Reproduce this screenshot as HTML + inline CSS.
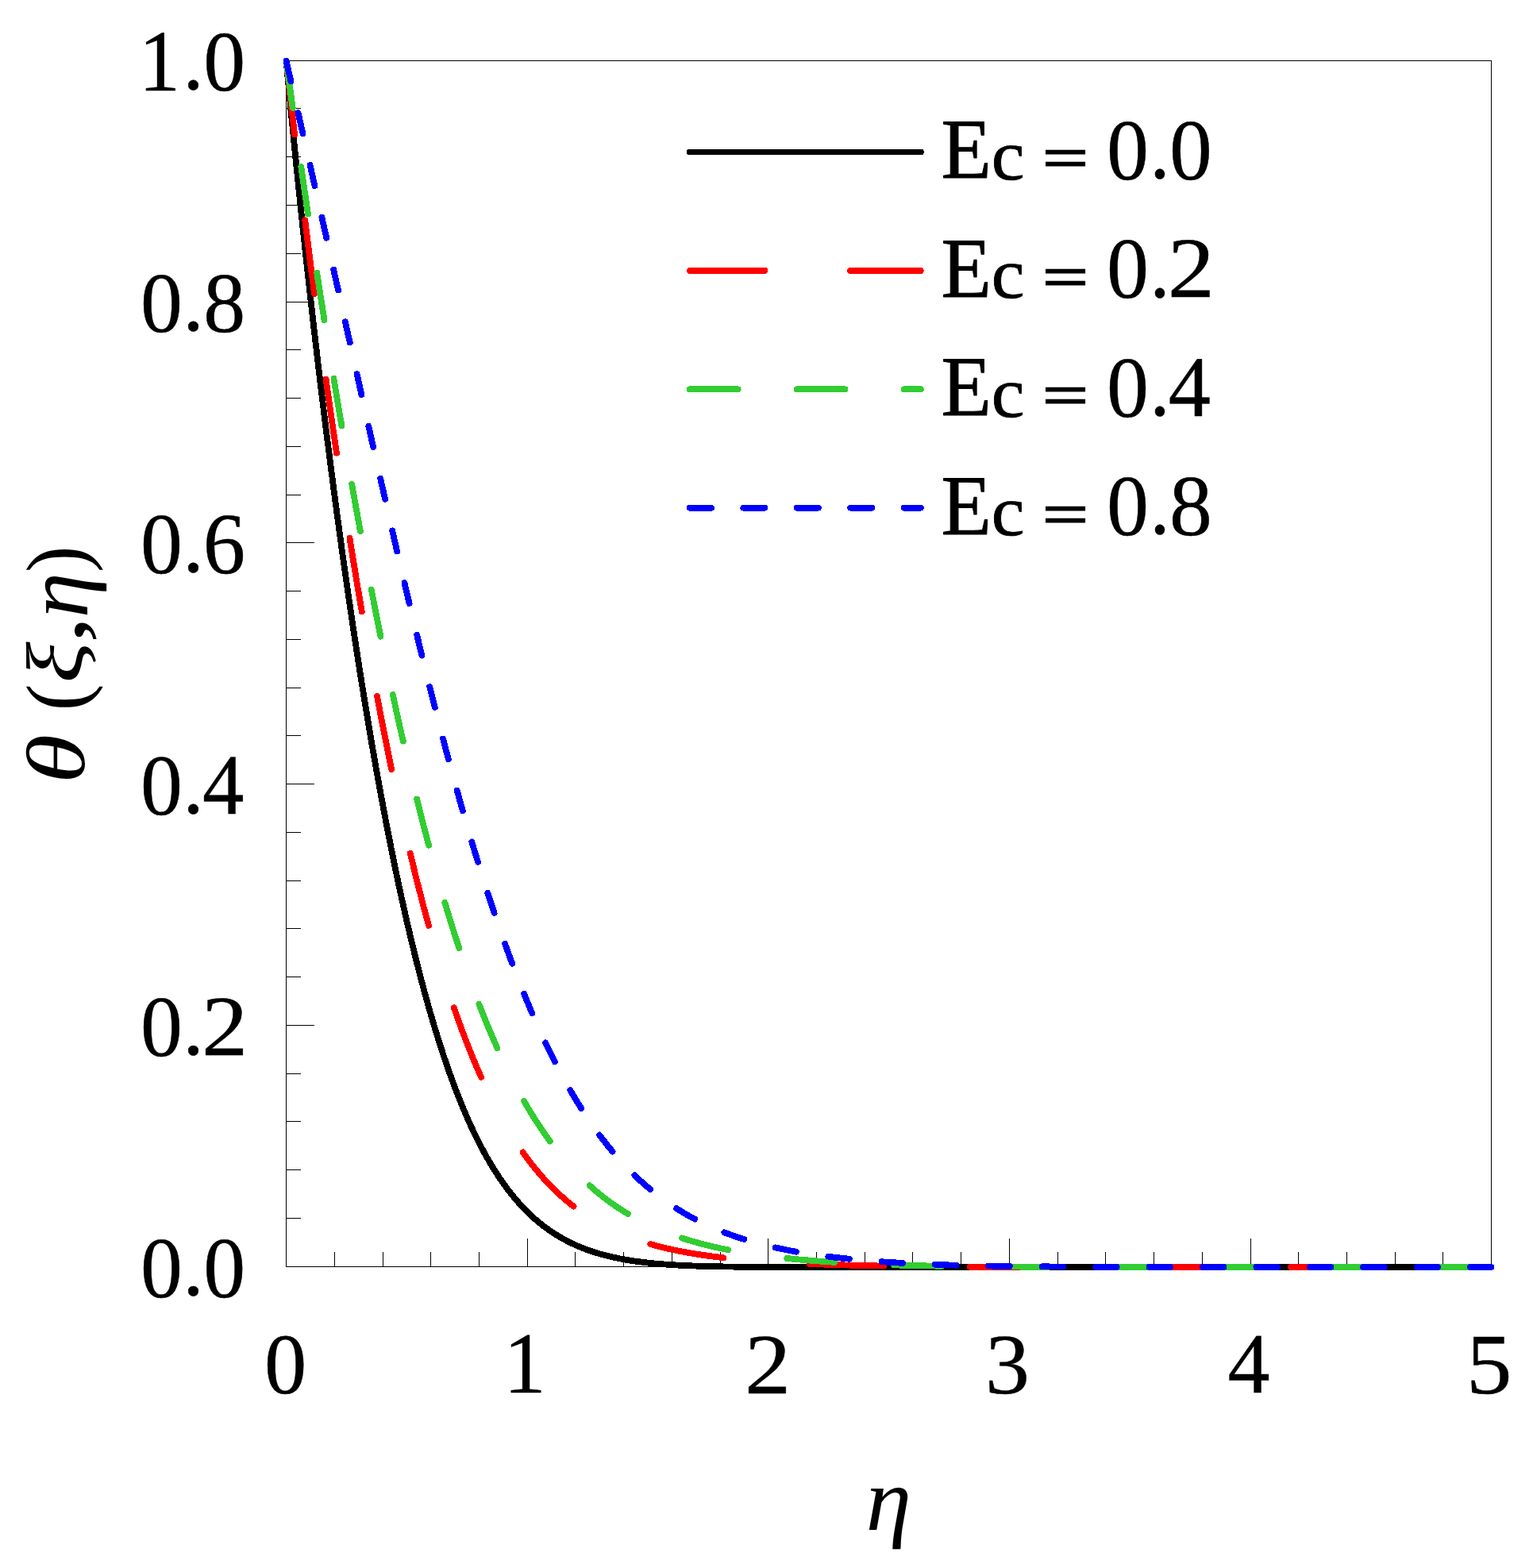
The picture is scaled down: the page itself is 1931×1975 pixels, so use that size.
<!DOCTYPE html>
<html lang="en">
<head>
<meta charset="utf-8">
<title>Temperature profile θ(ξ,η) for different Ec</title>
<style>
html,body{margin:0;padding:0;background:#fff;}
body{width:1931px;height:1975px;overflow:hidden;}
svg{display:block;}
text{font-family:"Liberation Serif","DejaVu Serif",serif;fill:#000;text-rendering:geometricPrecision;}
.ax{stroke:#000;stroke-width:1;fill:none;shape-rendering:crispEdges;}
.cv{fill:none;stroke-width:7.8;stroke-linecap:round;stroke-linejoin:round;shape-rendering:crispEdges;}
</style>
</head>
<body>
<svg width="1931" height="1975" viewBox="0 0 1931 1975" role="img" aria-label="Temperature profile θ(ξ,η) versus η for Ec = 0.0, 0.2, 0.4, 0.8">
<rect x="0" y="0" width="1931" height="1975" fill="#fff"/>
<g id="frame-and-ticks" class="ax">
<rect x="360.5" y="76.5" width="1518" height="1519"/>
<path d="M360,1534.5 h19 M360,1473.5 h19 M360,1412.5 h19 M360,1352.5 h19 M360,1291.5 h36 M360,1230.5 h19 M360,1169.5 h19 M360,1109.5 h19 M360,1048.5 h19 M360,987.5 h36 M360,926.5 h19 M360,866.5 h19 M360,805.5 h19 M360,744.5 h19 M360,683.5 h36 M360,623.5 h19 M360,562.5 h19 M360,501.5 h19 M360,440.5 h19 M360,380.5 h36 M360,319.5 h19 M360,258.5 h19 M360,197.5 h19 M360,136.5 h19 M421.5,1596 v-19 M482.5,1596 v-19 M542.5,1596 v-19 M603.5,1596 v-19 M664.5,1596 v-36 M724.5,1596 v-19 M785.5,1596 v-19 M846.5,1596 v-19 M907.5,1596 v-19 M967.5,1596 v-36 M1028.5,1596 v-19 M1089.5,1596 v-19 M1149.5,1596 v-19 M1210.5,1596 v-19 M1271.5,1596 v-36 M1332.5,1596 v-19 M1392.5,1596 v-19 M1453.5,1596 v-19 M1514.5,1596 v-19 M1575.5,1596 v-36 M1635.5,1596 v-19 M1696.5,1596 v-19 M1757.5,1596 v-19 M1817.5,1596 v-19"/>
</g>
<g id="curves">
<path class="cv" stroke="#000000" d="M360.5,76.5 L366.57,140.39 L372.64,201.84 L379.93,272.62 L387.22,340.41 L394.5,405.42 L401.79,467.85 L409.08,527.84 L416.36,585.52 L423.65,640.99 L430.94,694.34 L438.22,745.62 L445.51,794.91 L452.79,842.24 L460.08,887.65 L467.37,931.19 L474.65,972.87 L480.73,1006.21 L486.8,1038.3 L492.87,1069.15 L498.94,1098.78 L505.01,1127.22 L511.09,1154.47 L517.16,1180.55 L523.23,1205.49 L529.3,1229.31 L535.37,1252.02 L541.45,1273.66 L547.52,1294.25 L553.59,1313.81 L559.66,1332.38 L565.73,1349.97 L571.81,1366.63 L577.88,1382.38 L583.95,1397.25 L590.02,1411.27 L594.88,1421.91 L599.74,1432.03 L604.59,1441.67 L609.45,1450.84 L614.31,1459.55 L619.17,1467.82 L624.02,1475.67 L628.88,1483.11 L633.74,1490.16 L638.6,1496.84 L643.46,1503.16 L649.53,1510.57 L655.6,1517.47 L661.67,1523.89 L667.74,1529.85 L673.82,1535.39 L679.89,1540.52 L685.96,1545.28 L692.03,1549.68 L698.1,1553.74 L704.18,1557.49 L710.25,1560.95 L716.32,1564.14 L723.61,1567.63 L730.89,1570.79 L738.18,1573.63 L745.46,1576.2 L753.97,1578.86 L762.47,1581.21 L770.97,1583.28 L780.68,1585.33 L790.4,1587.09 L801.33,1588.77 L813.47,1590.31 L826.83,1591.67 L841.4,1592.83 L857.19,1593.77 L875.41,1594.56 L897.26,1595.18 L925.2,1595.63 L966.49,1595.9 L1081.85,1596 L1878.5,1596"/>
<path class="cv" stroke="#ff0000" stroke-dasharray="93.72 108.51" d="M360.5,76.5 L367.79,140.77 L375.07,202.85 L382.36,262.88 L390.86,330.46 L399.36,395.53 L407.86,458.2 L416.36,518.58 L424.86,576.74 L433.36,632.74 L441.86,686.62 L449.15,731.16 L456.44,774.19 L463.72,815.74 L471.01,855.82 L478.3,894.45 L485.58,931.64 L492.87,967.41 L500.16,1001.77 L507.44,1034.75 L514.73,1066.36 L522.02,1096.62 L528.09,1120.82 L534.16,1144.11 L540.23,1166.51 L546.3,1188.03 L552.38,1208.69 L558.45,1228.5 L564.52,1247.49 L570.59,1265.67 L576.66,1283.06 L582.74,1299.69 L588.81,1315.56 L594.88,1330.71 L600.95,1345.16 L607.02,1358.92 L613.1,1372.02 L619.17,1384.48 L625.24,1396.32 L631.31,1407.57 L637.38,1418.25 L643.46,1428.37 L649.53,1437.97 L655.6,1447.07 L661.67,1455.67 L667.74,1463.82 L673.82,1471.51 L679.89,1478.79 L685.96,1485.66 L692.03,1492.15 L698.1,1498.27 L704.18,1504.04 L710.25,1509.48 L716.32,1514.61 L722.39,1519.44 L729.68,1524.86 L736.96,1529.9 L744.25,1534.59 L751.54,1538.95 L758.82,1542.99 L766.11,1546.75 L774.61,1550.79 L783.11,1554.5 L791.61,1557.89 L800.11,1561 L809.83,1564.24 L819.54,1567.16 L830.47,1570.12 L841.4,1572.77 L853.55,1575.38 L865.69,1577.69 L879.05,1579.92 L893.62,1582.04 L909.41,1584.01 L926.41,1585.82 L945.84,1587.55 L966.49,1589.08 L989.56,1590.48 L1016.28,1591.77 L1046.64,1592.92 L1081.85,1593.93 L1121.93,1594.75 L1164.43,1595.29 L1225.15,1595.69 L1328.38,1595.92 L1724.36,1596 L1878.5,1596"/>
<path class="cv" stroke="#32cd32" stroke-dasharray="60.09 74.89" d="M360.5,76.5 L370.22,146.79 L379.93,214.85 L389.65,280.81 L399.36,344.78 L409.08,406.83 L418.79,467.01 L428.51,525.36 L438.22,581.89 L447.94,636.62 L456.44,683.03 L464.94,728.05 L473.44,771.68 L481.94,813.91 L490.44,854.73 L498.94,894.13 L507.44,932.12 L515.94,968.7 L523.23,998.92 L530.52,1028.1 L537.8,1056.25 L545.09,1083.37 L552.38,1109.47 L559.66,1134.57 L566.95,1158.67 L574.23,1181.78 L581.52,1203.93 L588.81,1225.13 L596.09,1245.4 L603.38,1264.75 L609.45,1280.2 L615.52,1295.05 L621.6,1309.31 L627.67,1322.99 L633.74,1336.11 L639.81,1348.68 L645.88,1360.73 L651.96,1372.25 L658.03,1383.28 L664.1,1393.81 L670.17,1403.88 L676.24,1413.5 L682.32,1422.68 L688.39,1431.43 L694.46,1439.77 L700.53,1447.73 L706.6,1455.3 L712.68,1462.52 L718.75,1469.38 L724.82,1475.91 L732.11,1483.32 L739.39,1490.3 L746.68,1496.86 L753.97,1503.03 L761.25,1508.82 L768.54,1514.27 L775.82,1519.38 L783.11,1524.18 L790.4,1528.68 L798.9,1533.58 L807.4,1538.13 L815.9,1542.35 L824.4,1546.26 L832.9,1549.89 L842.62,1553.72 L852.33,1557.23 L862.05,1560.45 L872.98,1563.75 L883.91,1566.75 L896.05,1569.76 L908.19,1572.47 L921.55,1575.13 L936.13,1577.71 L950.7,1579.98 L966.49,1582.14 L983.49,1584.16 L1001.7,1586.04 L1022.35,1587.84 L1045.42,1589.53 L1069.71,1590.99 L1096.43,1592.28 L1125.57,1593.39 L1155.93,1594.21 L1193.58,1594.88 L1243.37,1595.4 L1315.02,1595.76 L1444.12,1595.95 L1878.5,1596"/>
<path class="cv" stroke="#0000ff" stroke-dasharray="26.62 40.81" d="M360.5,76.5 L387.22,193.28 L412.72,306.2 L469.8,561.38 L489.23,647.04 L505.01,715.33 L518.37,771.85 L530.52,822.03 L541.45,866.06 L552.38,908.89 L562.09,945.89 L571.81,981.8 L581.52,1016.56 L590.02,1046.01 L598.52,1074.52 L607.02,1102.07 L615.52,1128.65 L624.02,1154.25 L632.53,1178.85 L639.81,1199.15 L647.1,1218.73 L654.38,1237.57 L661.67,1255.7 L668.96,1273.12 L676.24,1289.83 L683.53,1305.86 L690.82,1321.2 L698.1,1335.88 L705.39,1349.91 L712.68,1363.3 L719.96,1376.08 L727.25,1388.26 L734.54,1399.85 L741.82,1410.88 L749.11,1421.36 L756.39,1431.32 L763.68,1440.77 L770.97,1449.74 L778.25,1458.23 L785.54,1466.28 L792.83,1473.89 L800.11,1481.1 L807.4,1487.91 L814.69,1494.35 L821.97,1500.43 L829.26,1506.16 L836.54,1511.58 L843.83,1516.68 L852.33,1522.27 L860.83,1527.49 L869.33,1532.35 L877.83,1536.88 L886.34,1541.11 L894.84,1545.04 L904.55,1549.21 L914.27,1553.05 L923.98,1556.59 L934.91,1560.23 L945.84,1563.56 L956.77,1566.58 L968.91,1569.63 L981.06,1572.38 L994.42,1575.1 L1007.78,1577.52 L1022.35,1579.86 L1038.14,1582.09 L1055.14,1584.18 L1073.35,1586.11 L1092.78,1587.86 L1114.64,1589.5 L1138.93,1591 L1165.65,1592.31 L1192.36,1593.32 L1223.94,1594.16 L1262.8,1594.85 L1312.59,1595.36 L1374.06,1595.7 L1486.16,1595.92 L1878.5,1596"/>
</g>
<g id="legend-lines">
<path class="cv" stroke="#000000" d="M868.8,191.5 H1159.8"/>
<path class="cv" stroke="#ff0000" stroke-dasharray="94.58 107.78" d="M868.8,340.9 H1159.8"/>
<path class="cv" stroke="#32cd32" stroke-dasharray="60.85 74.05" d="M868.8,490.3 H1159.8"/>
<path class="cv" stroke="#0000ff" stroke-dasharray="27.13 40.33" d="M868.8,639.7 H1159.8"/>
</g>
<g id="legend-labels" font-size="109">
<g aria-label="Ec = 0.0"><text transform="matrix(1.0384 0 0 1.0772 1185.38 224.32)" font-size="100" stroke="#000" stroke-width="0.9" stroke-linejoin="round">E</text><text transform="matrix(0.9427 0 0 0.9001 1248.83 225.72)" font-size="100" stroke="#000" stroke-width="0.9" stroke-linejoin="round">c</text><text x="1295" y="224.6"> </text><text transform="matrix(1.0191 0 0 0.7492 1313.16 224.43)" font-size="100" stroke="#000" stroke-width="2.63">=</text><text x="1375" y="224.6"> </text><g aria-label="0.0"><text transform="matrix(1.0607 0 0 1.0946 1393.93 225.77)" font-size="100" stroke="#000" stroke-width="0.4" stroke-linejoin="round">0</text><text transform="matrix(1.0191 0 0 1.0772 1448.21 224.29)" font-size="100" stroke="#000" stroke-width="0.4" stroke-linejoin="round">.</text><text transform="matrix(1.0773 0 0 1.0946 1472.89 225.77)" font-size="100" stroke="#000" stroke-width="0.4" stroke-linejoin="round">0</text></g></g>
<g aria-label="Ec = 0.2"><text transform="matrix(1.0384 0 0 1.0772 1185.38 373.72)" font-size="100" stroke="#000" stroke-width="0.9" stroke-linejoin="round">E</text><text transform="matrix(0.9427 0 0 0.9001 1248.83 375.12)" font-size="100" stroke="#000" stroke-width="0.9" stroke-linejoin="round">c</text><text x="1295" y="374"> </text><text transform="matrix(1.0191 0 0 0.7492 1313.16 373.83)" font-size="100" stroke="#000" stroke-width="2.63">=</text><text x="1375" y="374"> </text><g aria-label="0.2"><text transform="matrix(1.0607 0 0 1.0946 1393.93 375.17)" font-size="100" stroke="#000" stroke-width="0.4" stroke-linejoin="round">0</text><text transform="matrix(1.0191 0 0 1.0772 1448.21 373.69)" font-size="100" stroke="#000" stroke-width="0.4" stroke-linejoin="round">.</text><text transform="matrix(1.1855 0 0 1.0839 1470.63 374.14)" font-size="100" stroke="#000" stroke-width="0.4" stroke-linejoin="round">2</text></g></g>
<g aria-label="Ec = 0.4"><text transform="matrix(1.0384 0 0 1.0772 1185.38 523.12)" font-size="100" stroke="#000" stroke-width="0.9" stroke-linejoin="round">E</text><text transform="matrix(0.9427 0 0 0.9001 1248.83 524.52)" font-size="100" stroke="#000" stroke-width="0.9" stroke-linejoin="round">c</text><text x="1295" y="523.4"> </text><text transform="matrix(1.0191 0 0 0.7492 1313.16 523.23)" font-size="100" stroke="#000" stroke-width="2.63">=</text><text x="1375" y="523.4"> </text><g aria-label="0.4"><text transform="matrix(1.0607 0 0 1.0946 1393.93 524.57)" font-size="100" stroke="#000" stroke-width="0.4" stroke-linejoin="round">0</text><text transform="matrix(1.0191 0 0 1.0772 1448.21 523.09)" font-size="100" stroke="#000" stroke-width="0.4" stroke-linejoin="round">.</text><text transform="matrix(1.0665 0 0 1.0903 1471.73 523.54)" font-size="100" stroke="#000" stroke-width="0.4" stroke-linejoin="round">4</text></g></g>
<g aria-label="Ec = 0.8"><text transform="matrix(1.0384 0 0 1.0772 1185.38 672.52)" font-size="100" stroke="#000" stroke-width="0.9" stroke-linejoin="round">E</text><text transform="matrix(0.9427 0 0 0.9001 1248.83 673.92)" font-size="100" stroke="#000" stroke-width="0.9" stroke-linejoin="round">c</text><text x="1295" y="672.8"> </text><text transform="matrix(1.0191 0 0 0.7492 1313.16 672.63)" font-size="100" stroke="#000" stroke-width="2.63">=</text><text x="1375" y="672.8"> </text><g aria-label="0.8"><text transform="matrix(1.0607 0 0 1.0946 1393.93 673.97)" font-size="100" stroke="#000" stroke-width="0.4" stroke-linejoin="round">0</text><text transform="matrix(1.0191 0 0 1.0772 1448.21 672.49)" font-size="100" stroke="#000" stroke-width="0.4" stroke-linejoin="round">.</text><text transform="matrix(1.0773 0 0 1.0946 1472.89 673.97)" font-size="100" stroke="#000" stroke-width="0.4" stroke-linejoin="round">8</text></g></g>
</g>
<g id="tick-labels">
<g aria-label="0.0"><text transform="matrix(1.0588 0 0 1.0944 176.98 1633.64)" font-size="100" stroke="#000" stroke-width="0.4" stroke-linejoin="round">0</text><text transform="matrix(1.0805 0 0 1.0641 230.09 1631.4)" font-size="100" stroke="#000" stroke-width="0.4" stroke-linejoin="round">.</text><text transform="matrix(1.0588 0 0 1.0944 256.23 1633.64)" font-size="100" stroke="#000" stroke-width="0.4" stroke-linejoin="round">0</text></g>
<g aria-label="0.2"><text transform="matrix(1.0588 0 0 1.0934 176.98 1329.71)" font-size="100" stroke="#000" stroke-width="0.4" stroke-linejoin="round">0</text><text transform="matrix(1.0805 0 0 1.0641 230.09 1328.09)" font-size="100" stroke="#000" stroke-width="0.4" stroke-linejoin="round">.</text><text transform="matrix(1.1665 0 0 1.0823 253.98 1328.65)" font-size="100" stroke="#000" stroke-width="0.4" stroke-linejoin="round">2</text></g>
<g aria-label="0.4"><text transform="matrix(1.0588 0 0 1.0899 176.98 1025.66)" font-size="100" stroke="#000" stroke-width="0.4" stroke-linejoin="round">0</text><text transform="matrix(1.0805 0 0 1.0772 230.09 1024.26)" font-size="100" stroke="#000" stroke-width="0.4" stroke-linejoin="round">.</text><text transform="matrix(1.0494 0 0 1.0850 255.06 1024.59)" font-size="100" stroke="#000" stroke-width="0.4" stroke-linejoin="round">4</text></g>
<g aria-label="0.6"><text transform="matrix(1.0588 0 0 1.0932 176.98 721.83)" font-size="100" stroke="#000" stroke-width="0.4" stroke-linejoin="round">0</text><text transform="matrix(1.0805 0 0 1.0838 230.09 720.27)" font-size="100" stroke="#000" stroke-width="0.4" stroke-linejoin="round">.</text><text transform="matrix(1.0678 0 0 1.0980 255.68 721.83)" font-size="100" stroke="#000" stroke-width="0.4" stroke-linejoin="round">6</text></g>
<g aria-label="0.8"><text transform="matrix(1.0588 0 0 1.0794 176.98 417.76)" font-size="100" stroke="#000" stroke-width="0.4" stroke-linejoin="round">0</text><text transform="matrix(1.0805 0 0 1.0838 230.09 416.33)" font-size="100" stroke="#000" stroke-width="0.4" stroke-linejoin="round">.</text><text transform="matrix(1.0588 0 0 1.0794 256.23 417.76)" font-size="100" stroke="#000" stroke-width="0.4" stroke-linejoin="round">8</text></g>
<g aria-label="1.0"><text transform="matrix(1.0465 0 0 1.1032 174.8 113.81)" font-size="100" stroke="#000" stroke-width="0.4" stroke-linejoin="round">1</text><text transform="matrix(1.0805 0 0 1.0772 230.09 112.29)" font-size="100" stroke="#000" stroke-width="0.4" stroke-linejoin="round">.</text><text transform="matrix(1.0588 0 0 1.0818 256.23 113.7)" font-size="100" stroke="#000" stroke-width="0.4" stroke-linejoin="round">0</text></g>
<g aria-label="0"><text transform="matrix(1.0658 0 0 1.0857 332.95 1755.42)" font-size="100" stroke="#000" stroke-width="0.4" stroke-linejoin="round">0</text></g>
<g aria-label="1"><text transform="matrix(1.0616 0 0 1.0946 634.38 1754.38)" font-size="100" stroke="#000" stroke-width="0.4" stroke-linejoin="round">1</text></g>
<g aria-label="2"><text transform="matrix(1.1658 0 0 1.0824 938.01 1754.68)" font-size="100" stroke="#000" stroke-width="0.4" stroke-linejoin="round">2</text></g>
<g aria-label="3"><text transform="matrix(1.1197 0 0 1.0816 1241.07 1754.83)" font-size="100" stroke="#000" stroke-width="0.4" stroke-linejoin="round">3</text></g>
<g aria-label="4"><text transform="matrix(1.0622 0 0 1.0812 1546.54 1754.38)" font-size="100" stroke="#000" stroke-width="0.4" stroke-linejoin="round">4</text></g>
<g aria-label="5"><text transform="matrix(1.1504 0 0 1.0844 1847.05 1754.82)" font-size="100" stroke="#000" stroke-width="0.4" stroke-linejoin="round">5</text></g>
</g>
<g id="y-axis-title" aria-label="θ (ξ,η)"><text transform="matrix(0 -1.2746 1.0480 0 106.18 987.22)" font-size="100" font-style="italic">θ</text><text transform="matrix(0 -1 1 0 107 910)" font-size="100"> </text><text transform="matrix(0 -1.0162 1.0687 0 107.05 895.17)" font-size="100">(</text><text transform="matrix(0 -1.2171 1.0080 0 103.33 860.56)" font-size="100" font-style="italic">ξ</text><text transform="matrix(0 -1.3765 1.0785 0 104.51 810.24)" font-size="100">,</text><text transform="matrix(0 -1.1505 1.1306 0 109.77 778.3)" font-size="100" font-style="italic">η</text><text transform="matrix(0 -1.0006 1.0687 0 107.05 721.02)" font-size="100">)</text></g>
<g id="x-axis-title" aria-label="η"><text transform="matrix(1.1529 0 0 1.1321 1090.69 1927.14)" font-size="100" font-style="italic">η</text></g>
</svg>
</body>
</html>
